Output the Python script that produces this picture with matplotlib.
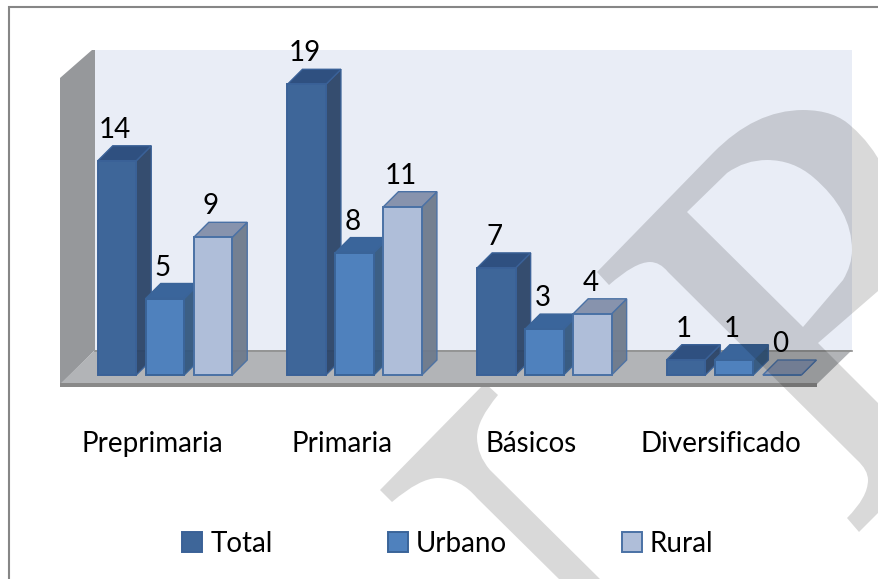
import matplotlib
matplotlib.use("Agg")
import matplotlib.pyplot as plt
from matplotlib.path import Path
from matplotlib.patches import PathPatch, Polygon

categories = ["Preprimaria", "Primaria", "Básicos", "Diversificado"]
series_names = ["Total", "Urbano", "Rural"]
total = [14, 19, 7, 1]
urbano = [5, 8, 3, 1]
rural = [9, 11, 4, 0]

W, H = 879, 579
FONT = ["Lato", "DejaVu Sans"]
FS = 20
plt.rcParams["font.family"] = FONT

# colour sets: front, top, side, edge
STYLES = [
    ("#3e6699", "#2f5080", "#2b4468", "#3a6197"),
    ("#4f81bd", "#3a659b", "#33577f", "#3a6499"),
    ("#afbed9", "#8793ad", "#6e7a8c", "#4a71a5"),
]

fig = plt.figure(figsize=(W / 100, H / 100), dpi=100, facecolor="white")


def pixel_axes(z):
    a = fig.add_axes([0, 0, 1, 1], zorder=z)
    a.set_xlim(0, W)
    a.set_ylim(H, 0)
    a.axis("off")
    return a


M, L, C = Path.MOVETO, Path.LINETO, Path.CURVE3

# ---------- background: frame, lower watermark, walls and floor ----------
bg = pixel_axes(0)
bg.plot([9.5, 9.5, W + 2], [H + 2, 6.5, 6.5], color="#868686", lw=1.5, solid_joinstyle="miter")

t_verts = [(380, 490), (485, 383), (498, 395), (477, 420), (477, 437), (477, 455), (490, 470),
           (603, 582), (562, 582), (477, 498), (460, 478), (438, 478), (420, 478), (392, 502), (380, 490)]
t_codes = [M, L, L, C, C, C, C, L, L, L, C, C, C, C, Path.CLOSEPOLY]
bg.add_patch(PathPatch(Path(t_verts, t_codes), fc="#d9d9d9", ec="none"))

bg.add_patch(Polygon([(95, 50), (852, 50), (852, 350), (95, 350)], fc="#e9edf6", ec="none"))
bg.add_patch(Polygon([(60, 78), (92, 50), (95, 50), (95, 350), (60, 385)], fc="#96989b", ec="none"))
bg.add_patch(Polygon([(95, 350), (852, 350), (817, 384), (60, 384)], fc="#b2b4b7", ec="none"))
bg.add_patch(Polygon([(60, 383), (817, 383), (817, 387), (60, 387)], fc="#898989", ec="none"))
bg.plot([95, 852], [350.5, 350.5], color="#8f8f8f", lw=1.2)

# ---------- chart ----------
X0, GROUP, PY0, PY_UNIT = 165.0, 189.7, 375.0, 15.3
ax = fig.add_axes([0, 0, 1, 1], zorder=1)
ax.patch.set_alpha(0)
ax.set_xlim(-X0 / GROUP, (W - X0) / GROUP)
ax.set_ylim(-(H - PY0) / PY_UNIT, PY0 / PY_UNIT)
ax.axis("off")

STEP = 48 / GROUP
WIDTH = 38.5 / GROUP
DX = 15 / GROUP
DY = 15 / PY_UNIT

for g, cat in enumerate(categories):
    for s, vals in enumerate((total, urbano, rural)):
        v = vals[g]
        front, top_c, side, edge = STYLES[s]
        x = g + (s - 1) * STEP
        l, r = x - WIDTH / 2, x + WIDTH / 2
        zo = 3 + g * 3 + s
        ax.add_patch(Polygon([(r, 0), (r + DX, DY), (r + DX, v + DY), (r, v)],
                             fc=side, ec=edge, lw=1.0, alpha=0.95, zorder=zo))
        ax.add_patch(Polygon([(l, v), (l + DX, v + DY), (r + DX, v + DY), (r, v)],
                             fc=top_c, ec=edge, lw=1.0, zorder=zo))
        ax.bar(x, v, WIDTH, color=front, edgecolor=edge, linewidth=1.4, zorder=zo,
               label=series_names[s] if g == 0 else None)
        ax.annotate(str(v), (x, v), xytext=(-2 * 0.72, 31 * 0.72), textcoords="offset points",
                    ha="center", va="center", fontsize=FS, color="black", zorder=40)
    ax.text(g - 0.068, -(444 - PY0) / PY_UNIT, cat, ha="center", va="center", fontsize=FS, color="black", zorder=40)

handles, labels = ax.get_legend_handles_labels()
leg = ax.legend(handles, labels, ncol=3, frameon=False, fontsize=FS, loc="center",
                bbox_to_anchor=(448 / W, 1 - 544 / H), bbox_transform=fig.transFigure,
                handlelength=0.72, handleheight=0.74, handletextpad=0.28,
                columnspacing=4.15, borderpad=0, borderaxespad=0)
leg.set_zorder(41)

# ---------- upper watermark, laid over the chart ----------
wm = pixel_axes(2)
p_outer = [(597, 272), (713, 153), (755, 110), (803, 110), (835, 110), (852, 127),
           (870, 142), (885, 170), (885, 285), (818, 343), (885, 410), (885, 506),
           (859, 532), (847, 518), (868, 497), (868, 480), (868, 470), (857, 460),
           (668, 272), (660, 262), (650, 262), (635, 262), (609, 285), (597, 272)]
p_codes = [M, L, C, C, C, C, C, C, L, L, L, L, L, L, C, C, C, C, L, C, C, C, C, Path.CLOSEPOLY]
p_hole = [(687, 212), (803, 327), (843, 280), (852, 265), (852, 250), (852, 210), (813, 177),
          (793, 160), (767, 160), (745, 160), (727, 173), (687, 212), (687, 212)]
h_codes = [M, L, L, C, C, C, C, C, C, C, C, L, Path.CLOSEPOLY]
wm.add_patch(PathPatch(Path(p_outer + p_hole, p_codes + h_codes), fc="black", alpha=0.15, ec="none"))

fig.savefig("out.png", dpi=100, facecolor="white")
